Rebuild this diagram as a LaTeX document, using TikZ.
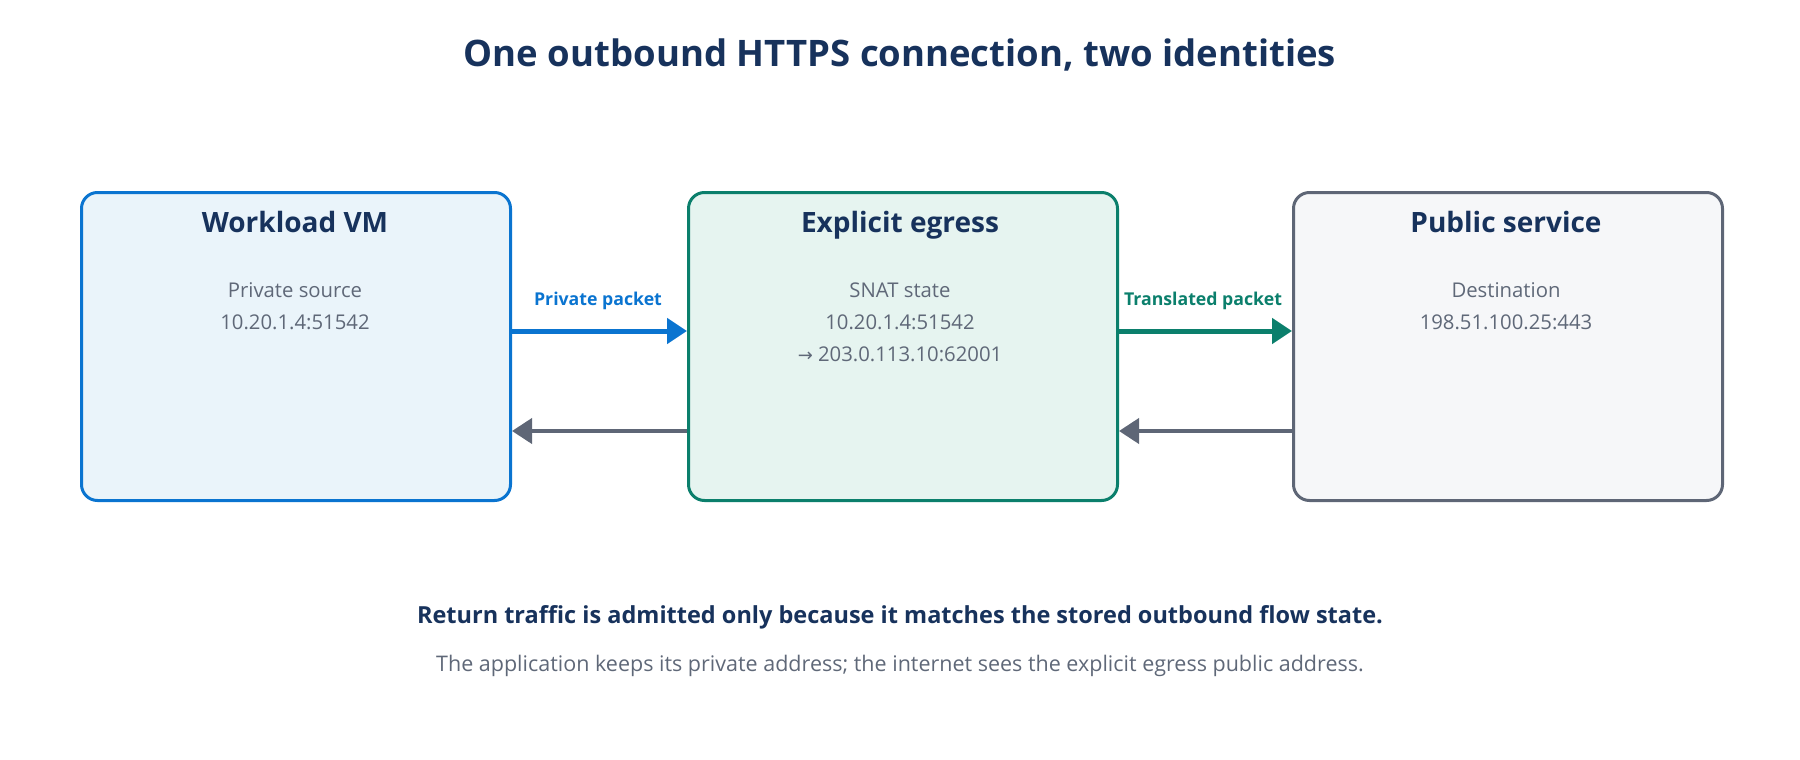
\documentclass[tikz,border=0pt]{standalone}
\usepackage{fontspec}
\setmainfont{Open Sans}
\newfontfamily\symf{DejaVu Sans}
\usetikzlibrary{arrows.meta}
\definecolor{navy}{HTML}{17325C}
\definecolor{gtxt}{HTML}{5F6878}
\definecolor{blu}{HTML}{0A74D0}
\definecolor{grn}{HTML}{0B7F6C}
\definecolor{gry}{HTML}{5E6676}
\definecolor{bfill}{HTML}{EAF4FA}
\definecolor{gfill}{HTML}{E6F4F0}
\definecolor{pfill}{HTML}{F6F7F9}
\begin{document}
\begin{tikzpicture}[x=1pt,y=-1pt,
  box/.style={draw,line width=3pt,rounded corners=16pt,minimum width=429pt,minimum height=308pt,anchor=north west},
  ttl/.style={text=navy,font=\fontsize{28}{32}\selectfont\bfseries,anchor=base},
  sub/.style={text=gtxt,font=\fontsize{20.3}{32}\selectfont,align=center},
  arr/.style={line width=5pt,-{Triangle[length=20pt,width=25pt]}},
  lab/.style={font=\fontsize{17.7}{21}\selectfont\bfseries}]
\useasboundingbox (0,0) rectangle (1800,760);
\node[text=navy,font=\fontsize{36.5}{44}\selectfont\bfseries] (title) at (900,55) {One outbound HTTPS connection, two identities};
\node[box,draw=blu,fill=bfill] (vm) at (80,191) {};
\node[box,draw=grn,fill=gfill] (eg) at (687,191) {};
\node[box,draw=gry,fill=pfill] (ps) at (1292,191) {};
\node[ttl] (vmt) at (295,232) {Workload VM};
\node[ttl] (egt) at (900,232) {Explicit egress};
\node[ttl] (pst) at (1506,232) {Public service};
\node[sub,anchor=north] (vms) at (295,279) {Private source\\10.20.1.4:51542};
\node[sub,anchor=north] (egs) at (900,279) {SNAT state\\10.20.1.4:51542\\{\symf\fontsize{18}{32}\selectfont →} 203.0.113.10:62001};
\node[sub,anchor=north] (pss) at (1506,279) {Destination\\198.51.100.25:443};
\coordinate (a1) at (vm.north east |- 0,331);
\coordinate (a2) at (eg.north west |- 0,331);
\coordinate (a3) at (eg.north east |- 0,331);
\coordinate (a4) at (ps.north west |- 0,331);
\coordinate (b1) at (vm.north east |- 0,431);
\coordinate (b2) at (eg.north west |- 0,431);
\coordinate (b3) at (eg.north east |- 0,431);
\coordinate (b4) at (ps.north west |- 0,431);
\draw[arr,blu] (a1) -- (a2);
\draw[arr,grn] (a3) -- (a4);
\draw[arr,gry,line width=4pt] (b2) -- (b1);
\draw[arr,gry,line width=4pt] (b4) -- (b3);
\node[lab,text=blu] (l1) at (598,301) {Private packet};
\node[lab,text=grn] (l2) at (1203,301) {Translated packet};
\node[text=navy,font=\fontsize{23.5}{28}\selectfont\bfseries] (n1) at (900,617) {Return traffic is admitted only because it matches the stored outbound flow state.};
\node[text=gtxt,font=\fontsize{21.5}{26}\selectfont] (n2) at (900,666) {The application keeps its private address; the internet sees the explicit egress public address.};
\end{tikzpicture}
\end{document}
